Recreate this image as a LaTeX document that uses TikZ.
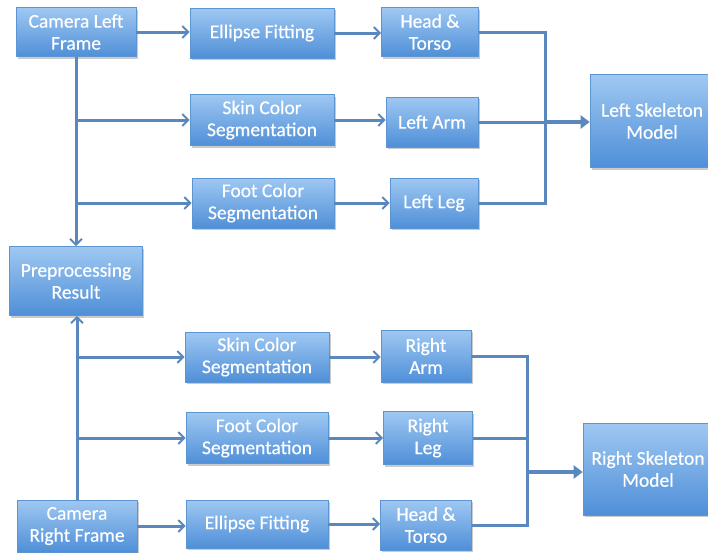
\documentclass[tikz,border=0pt]{standalone}
\usepackage{fontspec}
\setmainfont{Carlito}[FakeBold=0.4]
\newfontfamily\boxfont{Carlito}[FakeBold=0.4]
\usetikzlibrary{shadows,arrows.meta}
\definecolor{boxtop}{HTML}{9FC8F2}
\definecolor{boxbot}{HTML}{4F8FD8}
\definecolor{boxedge}{HTML}{5C95D0}
\definecolor{wire}{HTML}{5A87BE}
\tikzset{
  block/.style={rectangle, draw=boxedge, line width=0.6pt, top color=boxtop, bottom color=boxbot,
    text=white, align=center, font=\boxfont\fontsize{19.5}{22}\selectfont, inner sep=0pt,
    drop shadow={shadow xshift=1.5pt, shadow yshift=-2pt, opacity=0.35, fill=black!60}},
  link/.style={draw=wire, line width=3pt, -{Straight Barb[length=6pt,width=12pt,line width=2pt]}},
  plain/.style={draw=wire, line width=3pt},
  fat/.style={draw=wire, line width=4.5pt, -{Triangle[length=9pt,width=13pt]}}
}
\begin{document}
\begin{tikzpicture}[x=1pt,y=-1pt]
\useasboundingbox (0,0) rectangle (708,552);
% upper branch
\node[block, minimum width=120, minimum height=49] (clf) at (76,32) {Camera Left\\Frame};
\node[block, minimum width=144, minimum height=50] (ef1) at (262,33) {Ellipse Fitting};
\node[block, minimum width=97, minimum height=49] (ht1) at (430,32) {Head \&\\Torso};
\node[block, minimum width=144, minimum height=51] (sc1) at (262,120) {Skin Color\\Segmentation};
\node[block, minimum width=92, minimum height=50] (la) at (432,122) {Left Arm};
\node[block, minimum width=142, minimum height=50] (fc1) at (263,203) {Foot Color\\Segmentation};
\node[block, minimum width=88, minimum height=50] (ll) at (434,203) {Left Leg};
\node[block, minimum width=124, minimum height=93] (lsm) at (652,121) {Left Skeleton\\Model};
% middle
\node[block, minimum width=133, minimum height=69] (pre) at (76,281) {Preprocessing\\Result};
% lower branch
\node[block, minimum width=144, minimum height=50] (sc2) at (257,357) {Skin Color\\Segmentation};
\node[block, minimum width=90, minimum height=52] (ra) at (426,356) {Right\\Arm};
\node[block, minimum width=142, minimum height=51] (fc2) at (257,438) {Foot Color\\Segmentation};
\node[block, minimum width=89, minimum height=53] (rl) at (428,438) {Right\\Leg};
\node[block, minimum width=130, minimum height=92] (rsm) at (648,469) {Right Skeleton\\Model};
\node[block, minimum width=120, minimum height=52] (crf) at (77,526) {Camera\\Right Frame};
\node[block, minimum width=142, minimum height=48] (ef2) at (257,524) {Ellipse Fitting};
\node[block, minimum width=91, minimum height=50] (ht2) at (426,525) {Head \&\\Torso};
% junction points
\coordinate (jt1) at (76,120);
\coordinate (jt2) at (76,203);
\coordinate (jb1) at (77,357);
\coordinate (jb2) at (77,438);
\coordinate (busL) at (545,122);
\coordinate (busR) at (527,472);
% upper connectors
\draw[link] (clf.east) -- (ef1.west |- clf.east);
\draw[link] (ef1.east) -- (ht1.west |- ef1.east);
\draw[link] (clf.south) -- (pre.north);
\draw[link] (jt1) -- (sc1.west);
\draw[link] (jt2) -- (fc1.west);
\draw[link] (sc1.east) -- (la.west |- sc1.east);
\draw[link] (fc1.east) -- (ll.west |- fc1.east);
\draw[plain] (ht1.east) -| (busL);
\draw[plain] (ll.east) -| (busL);
\draw[plain] (la.east) -- (busL);
\draw[fat] (busL) -- (lsm.west |- busL);
% lower connectors
\draw[link] (crf.north) -- (pre.south -| crf.north);
\draw[link] (jb1) -- (sc2.west);
\draw[link] (jb2) -- (fc2.west);
\draw[link] (crf.east) -- (ef2.west |- crf.east);
\draw[link] (sc2.east) -- (ra.west |- sc2.east);
\draw[link] (fc2.east) -- (rl.west |- fc2.east);
\draw[link] (ef2.east) -- (ht2.west |- ef2.east);
\draw[plain] (ra.east) -| (busR);
\draw[plain] (ht2.east) -| (busR);
\draw[plain] (rl.east) -- (busR |- rl.east);
\draw[fat] (busR) -- (rsm.west |- busR);
\end{tikzpicture}
\end{document}
